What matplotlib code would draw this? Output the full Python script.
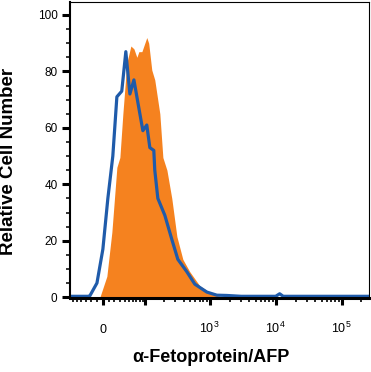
import numpy as np
import matplotlib
matplotlib.use('Agg')
import matplotlib.pyplot as plt
from matplotlib.ticker import FixedLocator

plt.rcParams['font.family'] = ['Liberation Sans', 'DejaVu Sans']

# isotype control (blue outline)
ctrl_x = [-68, -26, -22.5, -10, 0, 8.4, 17, 24.4, 34, 42.7, 52.3, 62.8, 80.7, 91,
          106, 119, 138, 143, 160, 206, 264, 327, 449, 594, 904, 1282, 1815, 3000,
          10000, 11500, 13000, 260000]
ctrl_y = [0.3, 0.3, 0.5, 5, 17, 35, 50, 71, 73, 87, 72, 77, 65, 59,
          61, 53, 52, 45, 35, 29, 20.5, 13.4, 9, 4.6, 1.8, 0.7, 0.6, 0.3,
          0.3, 1.2, 0.3, 0.3]

# AFP stained (orange fill)
afp_x = [-5, 6.7, 15.3, 24.4, 30.2, 36.3, 45, 54.8, 62.8, 71.3, 77.5, 87.5, 106,
         114, 128, 143, 172, 192, 222, 264, 316, 390, 498, 707, 1114, 1422, 2000]
afp_y = [0, 7.4, 23, 46, 49.5, 65, 83, 89, 88, 85, 87, 87, 92,
         90, 80.5, 77, 65, 49.5, 45, 35, 21.5, 13.4, 9, 4, 1, 0.3, 0]

xmajor = [0, 100, 1000, 10000, 100000]
xlabels = ['0', '', r'$\mathregular{10^{3}}$', r'$\mathregular{10^{4}}$', r'$\mathregular{10^{5}}$']
xminor = ([-60, -50, -40, -30, -20, -10] + list(range(10, 100, 10))
          + list(range(200, 1000, 100)) + list(range(2000, 10000, 1000))
          + list(range(20000, 100000, 10000)) + [200000])

orange = '#F5821F'
blue = '#1F5BAA'

fig = plt.figure(figsize=(3.71, 3.72), dpi=100)
ax = fig.add_axes([70/371, 74/372, 299/371, 296/372])

ax.set_xscale('asinh', linear_width=48)
ax.fill_between(afp_x, afp_y, 0, color=orange, lw=0)
ax.plot(ctrl_x, ctrl_y, color=blue, lw=2.3)

ax.set_xlim(-68, 260000)
ax.set_ylim(-0.3, 104.6)

ax.xaxis.set_major_locator(FixedLocator(xmajor))
ax.xaxis.set_minor_locator(FixedLocator(xminor))
ax.set_xticklabels(xlabels)
ax.set_yticks([0, 20, 40, 60, 80, 100])
ax.yaxis.set_minor_locator(FixedLocator(np.arange(0, 105, 5)))

ax.tick_params(axis='x', which='major', length=5, width=2.2, labelsize=9, pad=20)
ax.tick_params(axis='x', which='minor', length=3, width=1.2)
ax.tick_params(axis='y', which='major', length=6, width=2.2, labelsize=8.5, pad=3)
ax.tick_params(axis='y', which='minor', length=3, width=1.1)
for lbl in ax.get_xticklabels():
    lbl.set_va('baseline')

ax.spines['left'].set_linewidth(1.5)
ax.spines['bottom'].set_linewidth(2.2)
ax.spines['top'].set_linewidth(0.8)
ax.spines['right'].set_linewidth(0.8)

fig.text(211/371, 1 - 357/372, 'α-Fetoprotein/AFP', ha='center', va='center',
         fontsize=13, fontweight='bold')
fig.text(9/371, 1 - 161/372, 'Relative Cell Number', ha='center', va='center',
         rotation=90, fontsize=13.5, fontweight='bold')

fig.savefig('out.png', dpi=100)
